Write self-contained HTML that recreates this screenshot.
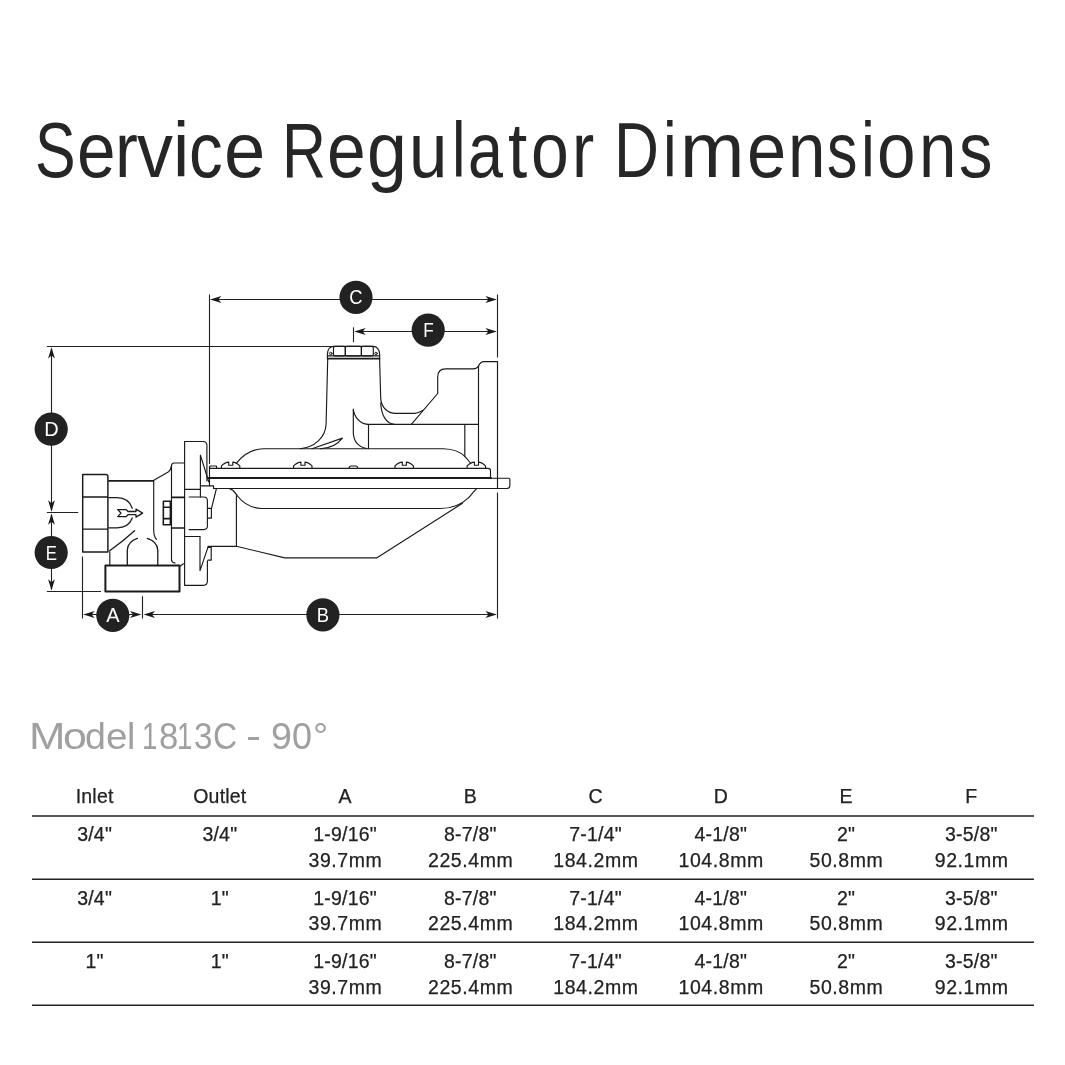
<!DOCTYPE html>
<html>
<head>
<meta charset="utf-8">
<title>Service Regulator Dimensions</title>
<style>
html,body{margin:0;padding:0;background:#fff;}
body{width:1065px;height:1065px;position:relative;overflow:hidden;font-family:"Liberation Sans",sans-serif;color:#262626;}
#title span{position:absolute;top:105.9px;font-size:78px;line-height:88px;white-space:nowrap;color:#262626;transform-origin:0 0;display:block;}
#model span{position:absolute;top:715.5px;font-size:37px;line-height:42px;white-space:nowrap;color:#a0a0a0;transform-origin:0 0;display:block;}
#tbl{position:absolute;left:32px;top:776px;width:1002px;}
.row{display:flex;border-bottom:1.6px solid transparent;box-sizing:border-box;}
.row.h{height:40.5px;}
.row.d{height:63.4px;}
.c{width:125.25px;text-align:center;font-size:19.5px;line-height:25.7px;color:#222;letter-spacing:0.2px;-webkit-text-stroke:0.25px #222;}
.m{letter-spacing:0.55px;margin-right:-0.55px;}
.row.h .c{padding-top:8.3px;}
.row.d .c{padding-top:5.7px;}
#dia{position:absolute;left:0;top:0;will-change:transform;}
#tbl,#model,#title{will-change:transform;}
</style>
</head>
<body>
<div id="title"><span style="left:35.3px;transform:scaleX(0.780)">S</span><span style="left:76.6px;transform:scaleX(0.889)">e</span><span style="left:114.8px;transform:scaleX(0.880)">r</span><span style="left:136.8px;transform:scaleX(0.921)">v</span><span style="left:172.7px;transform:scaleX(0.938)">i</span><span style="left:189.4px;transform:scaleX(0.862)">c</span><span style="left:224.3px;transform:scaleX(0.951)">e</span><span style="left:281.5px;transform:scaleX(0.780)">R</span><span style="left:326.9px;transform:scaleX(0.892)">e</span><span style="left:367.3px;transform:scaleX(0.919)">g</span><span style="left:409.3px;transform:scaleX(0.885)">u</span><span style="left:451.5px;transform:scaleX(0.780)">l</span><span style="left:468.4px;transform:scaleX(0.807)">a</span><span style="left:507.5px;transform:scaleX(0.886)">t</span><span style="left:531.3px;transform:scaleX(0.871)">o</span><span style="left:571.7px;transform:scaleX(0.855)">r</span><span style="left:614.0px;transform:scaleX(0.798)">D</span><span style="left:663.0px;transform:scaleX(0.788)">i</span><span style="left:679.5px;transform:scaleX(0.991)">m</span><span style="left:746.8px;transform:scaleX(0.903)">e</span><span style="left:788.0px;transform:scaleX(0.862)">n</span><span style="left:827.4px;transform:scaleX(0.780)">s</span><span style="left:860.8px;transform:scaleX(0.800)">i</span><span style="left:877.1px;transform:scaleX(0.889)">o</span><span style="left:918.7px;transform:scaleX(0.862)">n</span><span style="left:958.9px;transform:scaleX(0.857)">s</span></div>
<svg id="dia" width="1065" height="1065" viewBox="0 0 1065 1065">
<!--DS--><defs>
  <path id="ah" d="M0 0 L-11.4 -3.4 L-8.4 0 L-11.4 3.4 Z"/>
  <g id="screw">
    <path d="M-9.2 3.1 V0.7 C-6.6 -1.9 -3.6 -3.1 -1.9 -3.1 V0 H2.2 V-3.1 C3.8 -3.1 6.6 -1.9 9.2 0.7 V3.1" />
  </g>
</defs>
<!-- dimension / extension lines -->
<g fill="none" stroke="#222" stroke-width="1.12">
  <path d="M209.5 294.5 V464"/>
  <path d="M497.5 294.5 V357.5 M497.5 492.6 V618.5"/>
  <path d="M353.5 327.3 V342.2"/>
  <path d="M211 299.5 H495.5"/>
  <path d="M355.5 331.5 H495.5"/>
  <path d="M46.9 346.5 H333.4"/>
  <path d="M51.5 348.5 V510.5 M51.5 514.5 V589.5"/>
  <path d="M46.9 512.5 H78.2"/>
  <path d="M46.9 591.5 H101"/>
  <path d="M82.5 556.5 V618.5 M142.5 596.2 V618.5"/>
  <path d="M84.5 614.5 H140 M145 614.5 H495.5"/>
</g>
<g fill="#1a1a1a" stroke="none">
  <use href="#ah" transform="translate(210 299.5) rotate(180)"/>
  <use href="#ah" transform="translate(496.8 299.5)"/>
  <use href="#ah" transform="translate(354.3 331.5) rotate(180)"/>
  <use href="#ah" transform="translate(496.8 331.5)"/>
  <use href="#ah" transform="translate(51.5 347.2) rotate(-90)"/>
  <use href="#ah" transform="translate(51.5 511.7) rotate(90)"/>
  <use href="#ah" transform="translate(51.5 513.4) rotate(-90)"/>
  <use href="#ah" transform="translate(51.5 590.6) rotate(90)"/>
  <use href="#ah" transform="translate(83.3 614.5) rotate(180)"/>
  <use href="#ah" transform="translate(141.4 614.5)"/>
  <use href="#ah" transform="translate(143.6 614.5) rotate(180)"/>
  <use href="#ah" transform="translate(496.8 614.5)"/>
</g>
<!-- label bubbles -->
<g fill="#222">
  <circle cx="356" cy="297.3" r="16.6"/>
  <circle cx="428.2" cy="330.2" r="16.6"/>
  <circle cx="51.2" cy="429.2" r="16.6"/>
  <circle cx="51.2" cy="552.5" r="16.6"/>
  <circle cx="112.8" cy="615.3" r="16.6"/>
  <circle cx="322.9" cy="614.8" r="16.6"/>
</g>
<g fill="#fff" font-family="Liberation Sans, sans-serif" font-size="20" text-anchor="middle">
  <text transform="translate(355.8 304.3) scale(0.92 1)">C</text>
  <text transform="translate(428.6 337.3) scale(0.86 1)">F</text>
  <text x="51.6" y="436.2">D</text>
  <text transform="translate(51.4 559.6) scale(0.84 1)">E</text>
  <text x="112.8" y="622.4">A</text>
  <text transform="translate(322.9 621.9) scale(0.92 1)">B</text>
</g>
<!-- regulator drawing -->
<g fill="none" stroke="#1a1a1a" stroke-width="1.15" stroke-linecap="round" stroke-linejoin="round">
  <!-- inlet hex -->
  <path stroke-width="1.45" d="M82.7 474.5 H105.8 Q107.9 474.5 107.9 476.6 V551.9 H82.7 Z M82.7 496.9 H107.9 M82.7 529.1 H107.9"/>
  <path stroke-width="1.7" d="M108.8 480.8 H153.4"/>
    <path d="M153.4 480.6 L168.6 471.8 Q170.8 470 171.3 466"/>
  <path d="M153.7 481 V530 Q153.7 536 156.4 539.4"/>
  <path stroke-width="1.3" d="M108.8 497.7 H117 C126 497.7 130 502 132.3 508.2 M108.8 527.8 H117 C126 527.8 130 524 132.3 518"/>
  <!-- flow arrow -->
  <path stroke-width="1.3" d="M117.7 509.6 H126.2 L128 511.5 H136 V509.1 L142.6 513.1 L136 517.1 V514.7 H128 L126.2 516.6 H117.7 L121 513.1 Z"/>
  <path stroke-width="1.3" d="M109.3 551 Q122 542 134.6 530.7"/>
  <path stroke-width="1.3" d="M127.3 564.6 V550 Q127.8 541.5 137.4 538.4 M147.3 538.4 Q157.2 541.5 157.8 550 V564.6"/>
  <path d="M109.8 552 V564.6"/>
  <!-- outlet -->
  <path stroke-width="2" d="M105.4 565.4 H179.5 V591.4 H105.4 Z"/>
  <path d="M179.6 566.2 L183.6 563.8"/>
  <!-- thin flange -->
  <path d="M184.4 463 H174.2 Q171.5 463 171.5 466 V560 Q171.8 562.8 175.2 563"/>
  <path stroke-width="1.7" d="M171.7 497.3 H184.4 M171.7 528 H184.4"/>
  <!-- nut -->
  <path stroke-width="1.6" d="M163.4 501.2 H170.4 V524.7 H163.3 Z M163.3 507.3 H170.4 M163.3 518.6 H170.4"/>
  <!-- big flange -->
  <path d="M184.6 441.5 H203 Q206.9 441.5 206.9 445.5 V481 M207.4 560.8 V581.3 Q207.4 585.3 203.4 585.3 H184.6 V441.5"/>
  <!-- teeth -->
  <path d="M208.8 482 L200.4 455.2 V497 M200 536.5 V570.6 L208.2 546.6"/>
  <path d="M184.9 489.3 H200.4 M184.9 536.5 H200"/>
  <!-- bolt head box -->
  <path d="M189.1 497 H203.6 Q207.4 497 207.4 500.8 V525.8 Q207.4 529.6 203.6 529.6 H189.1"/>
  <path d="M207.9 508.3 H211.4 V518.1 H207.9 M207.9 547.3 H211.2 V560.1 H207.9"/>
  <!-- link between flange and plate -->
  <path d="M201.3 485.8 H213.6 V488.5 M216.3 489 L211.6 508.2"/>
  <!-- lower body -->
  <path d="M208.2 546.3 H236.4 M236.4 495.5 V546.3 L284.8 557.9 H376.6 L462.5 503.3"/>
  <!-- plate -->
  <path d="M209.5 485.7 V466.5 M209.5 468.4 H488.1 Q490.5 468.4 490.5 470.8 V477.6"/>
  <path stroke-width="1.8" d="M208.4 478 H491"/>
  <path d="M491 478.2 H508.5 Q509.9 478.2 509.9 479.6 V485.5 Q509.9 488.5 506.9 488.5 H214"/>
  <path d="M209.7 468.2 V466.8 Q209.7 466 210.5 466 H215.9 Q216.7 466 216.7 466.8 V468.2"/>
  <!-- screws -->
  <use href="#screw" transform="translate(230.6 465.2)"/>
  <use href="#screw" transform="translate(302.8 465.2)"/>
  <use href="#screw" transform="translate(404.2 465.2)"/>
  <use href="#screw" transform="translate(476.3 465.2)"/>
  <path d="M349.2 468.2 V467.4 Q349.4 466 351 466 H355.8 Q357.4 466 357.6 467.4 V468.2"/>
  <!-- upper case dome -->
  <path d="M236.5 463.2 C243 455 252 449 263.2 448.7 H443.4 C454 449 461 452.5 464.8 456.4 C467 458.7 468.6 460.8 470.3 462.8"/>
  <!-- lower case dome -->
  <path d="M229.5 488.6 C234 489.5 235 493 237.5 496 C243 503 251 508 261.4 508.5 H440 C455 508.5 463 503 468.5 497.8 C471.5 495 474 490.3 476.8 488.7"/>
  <!-- cap -->
  <path d="M327.4 359 V354.4 C327.4 349.5 330 346.3 333.5 346.3 H373.3 C376.8 346.3 379.7 349.5 379.7 354.4 V359"/>
  <path stroke-width="1.2" stroke-linecap="butt" d="M327.4 355.9 H379.7"/>
  <path stroke-width="1.9" stroke-linecap="butt" d="M327 358.6 H380.1"/>
  <rect x="333.5" y="346.3" width="11.8" height="9.6" rx="1.6"/>
  <rect x="345.3" y="346.3" width="16.1" height="9.6" rx="1.6"/>
  <rect x="361.4" y="346.3" width="11.9" height="9.6" rx="1.6"/>
  <circle cx="330.8" cy="353.5" r="1.3" stroke-width="1"/>
  <circle cx="376" cy="353.5" r="1.3" stroke-width="1"/>
  <!-- neck -->
  <path d="M327.7 359.2 L326.1 424 C325.5 438 314 447.5 300.1 448.7"/>
  <path d="M379.6 359.2 L380.7 398.1 C381.2 407.5 387.5 413.3 395.9 413.4 H411.5 Q418 413.4 422.5 410.4"/>
  <path d="M380.7 403 C381.2 415 386 423.5 394.5 424.4"/>
  <path d="M353.3 409.1 V433 C353.8 441.5 359 447 366.6 448.5 M353.3 409.3 C354.5 417.5 360 423.5 367.7 424.4"/>
  <path d="M312 448.7 L342.4 438.1 C338 444 331 448.2 320.4 448.7"/>
  <!-- horizontal tube -->
  <path d="M367.7 424.4 H478.4 M368.5 424.4 V448.5 M464.8 424.4 V456.4"/>
  <!-- boss -->
  <path d="M411.3 424.4 L437.7 393.5 V377.1 Q437.7 368.9 445.6 368.9 H473.2 Q476.5 368.9 478.3 366.2 Q480.5 361.6 483.9 361.6 H497.5 V488.5"/>
  <path d="M478.5 366.2 V462.2"/>
</g>
<!--DE-->
<g stroke="#222" stroke-width="1.45" fill="none"><path d="M32 815.9 H1034 M32 879.2 H1034 M32 942.3 H1034 M32 1005.3 H1034"/></g>
</svg>
<div id="model"><span style="left:29.1px;transform:scaleX(1.183)">M</span><span style="left:63.1px;transform:scaleX(1.155)">o</span><span style="left:85.1px;transform:scaleX(1.015)">d</span><span style="left:106.1px;transform:scaleX(1.043)">e</span><span style="left:127.1px;transform:scaleX(1.009)">l</span><span style="left:142.2px;transform:scaleX(0.750)">1</span><span style="left:158.8px;transform:scaleX(0.937)">8</span><span style="left:176.5px;transform:scaleX(0.750)">1</span><span style="left:193.7px;transform:scaleX(0.898)">3</span><span style="left:213.3px;transform:scaleX(0.903)">C</span><span style="left:271.0px;transform:scaleX(1.015)">9</span><span style="left:291.9px;transform:scaleX(0.973)">0</span><span style="left:312.7px;transform:scaleX(1.020)">°</span><i style="position:absolute;left:248.2px;top:736.8px;width:10.8px;height:3px;background:#a0a0a0;border-radius:0.6px"></i></div>
<div id="tbl">
<div class="row h"><div class="c">Inlet</div><div class="c">Outlet</div><div class="c">A</div><div class="c">B</div><div class="c">C</div><div class="c">D</div><div class="c">E</div><div class="c">F</div></div>
<div class="row d"><div class="c">3/4"</div><div class="c">3/4"</div><div class="c">1-9/16"<br><span class="m">39.7mm</span></div><div class="c">8-7/8"<br><span class="m">225.4mm</span></div><div class="c">7-1/4"<br><span class="m">184.2mm</span></div><div class="c">4-1/8"<br><span class="m">104.8mm</span></div><div class="c">2"<br><span class="m">50.8mm</span></div><div class="c">3-5/8"<br><span class="m">92.1mm</span></div></div>
<div class="row d"><div class="c">3/4"</div><div class="c">1"</div><div class="c">1-9/16"<br><span class="m">39.7mm</span></div><div class="c">8-7/8"<br><span class="m">225.4mm</span></div><div class="c">7-1/4"<br><span class="m">184.2mm</span></div><div class="c">4-1/8"<br><span class="m">104.8mm</span></div><div class="c">2"<br><span class="m">50.8mm</span></div><div class="c">3-5/8"<br><span class="m">92.1mm</span></div></div>
<div class="row d"><div class="c">1"</div><div class="c">1"</div><div class="c">1-9/16"<br><span class="m">39.7mm</span></div><div class="c">8-7/8"<br><span class="m">225.4mm</span></div><div class="c">7-1/4"<br><span class="m">184.2mm</span></div><div class="c">4-1/8"<br><span class="m">104.8mm</span></div><div class="c">2"<br><span class="m">50.8mm</span></div><div class="c">3-5/8"<br><span class="m">92.1mm</span></div></div>
</div>
</body>
</html>
